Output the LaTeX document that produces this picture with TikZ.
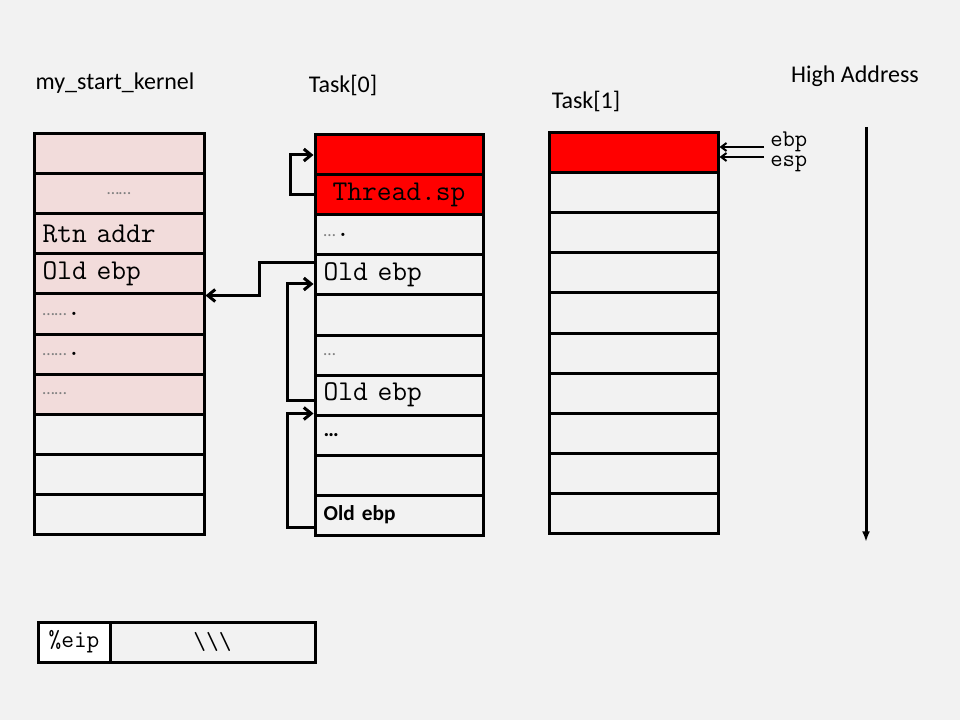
\documentclass[tikz,border=0pt]{standalone}
\usepackage{fontspec}
\setmainfont{Carlito}
\setsansfont{Carlito}
\usetikzlibrary{arrows.meta,calc}
\definecolor{bgc}{HTML}{F2F2F2}
\definecolor{pinkc}{HTML}{F2DCDB}
\definecolor{redc}{HTML}{FF0000}
\definecolor{dotc}{HTML}{808080}
\newcommand{\gdots}[1]{{\sffamily\fontsize{13}{14}\selectfont\textcolor{dotc}{#1}}}
\begin{document}
\begin{tikzpicture}[x=0.75pt,y=-0.75pt,
  cell/.style={draw, line width=2.25pt, minimum height=30pt, inner xsep=6.5pt, inner ysep=0pt,
    align=left, anchor=center, font=\ttfamily\fontsize{21.5}{22}\selectfont},
  lcell/.style={cell, text width=114.5pt},
  mcell/.style={cell, text width=113pt},
  rcell/.style={cell, text width=113.75pt},
  lbl/.style={font=\sffamily\fontsize{18}{21}\selectfont, inner sep=0pt},
  arr/.style={line width=2.25pt, -{Straight Barb[length=5.5pt,width=9pt,line width=2.25pt]}},
  sarr/.style={line width=2pt, -{Straight Barb[length=4pt,width=6pt,line width=1.5pt]}},
  reg/.style={font=\ttfamily\fontsize{18}{16}\selectfont, anchor=base west, inner sep=0pt}]
\fill[bgc] (0,0) rectangle (960,720);
\useasboundingbox (0,0) rectangle (960,720);

% titles
\node[lbl] (t0) at (115,83) {my\_start\_kernel};
\node[lbl] (t1) at (343,85) {Task[0]};
\node[lbl] (t2) at (586,101) {Task[1]};
\node[lbl] (t3) at (855,76) {High Address};

% left stack
\node[lcell, fill=pinkc] (L1) at (119,154) {};
\node[lcell, fill=pinkc, align=center] (L2) at (119,194) {\gdots{……}};
\node[lcell, fill=pinkc] (L3) at (119,234) {Rtn addr};
\node[lcell, fill=pinkc] (L4) at (119,274) {Old ebp};
\node[lcell, fill=pinkc] (L5) at (119,314) {\gdots{……}.};
\node[lcell, fill=pinkc] (L6) at (119,354) {\gdots{……}.};
\node[lcell, fill=pinkc] (L7) at (119,394) {\gdots{……}};
\node[lcell] (L8) at (119,434) {};
\node[lcell] (L9) at (119,474) {};
\node[lcell] (L10) at (119,514) {};

% middle stack
\node[mcell, fill=redc] (M1) at (399,155) {};
\node[mcell, fill=redc, align=center] (M2) at (399,195) {Thread.sp};
\node[mcell] (M3) at (399,235) {\gdots{…}.};
\node[mcell] (M4) at (399,275) {Old ebp};
\node[mcell] (M5) at (399,315) {};
\node[mcell] (M6) at (399,355) {\gdots{…}};
\node[mcell] (M7) at (399,395) {Old ebp};
\node[mcell, font=\sffamily\bfseries\fontsize{16}{18}\selectfont] (M8) at (399,435) {…};
\node[mcell] (M9) at (399,475) {};
\node[mcell, font=\sffamily\bfseries\fontsize{16}{18}\selectfont] (M10) at (399,515) {Old ebp};

% right stack
\node[rcell, fill=redc] (R1) at (633.5,153) {};
\foreach \i in {2,...,10} {
  \node[rcell] (R\i) at (633.5,{113+40*\i}) {};
}

% eip box
\node[cell, fill=white, minimum width=54pt, inner xsep=0pt, font=\ttfamily\fontsize{18.5}{18}\selectfont] (E1) at (74,642) {\%eip};
\node[cell, minimum width=153.75pt, inner xsep=0pt, align=center, font=\ttfamily\fontsize{18.5}{18}\selectfont] (E2) at (212.5,642) {\textbackslash\textbackslash\textbackslash};

% ebp / esp
\node[reg, text depth=0pt] (ebp) at (770,147) {ebp};
\node[reg, text height=1ex] (esp) at (770,167) {esp};
\coordinate (ebpS) at (764,147);
\coordinate (espS) at (764,157);
\draw[sarr] (ebpS) -- (R1.east |- ebpS);
\draw[sarr] (espS) -- (R1.east |- espS);

% high address arrow
\coordinate (hA) at (866,127);
\coordinate (hB) at (866,542);
\draw[line width=2.25pt, -{Latex[length=8pt,width=6pt]}] (hA) -- (hB);

% connectors
\draw[arr] ($(M4.west)+(0,-12)$) -| ($(L4.south east)+(54,0)$) -- (L4.south east);
\draw[arr] (M2.west) -- ++(-23,0) |- (M1.west);
\draw[arr] ($(M7.west)+(0,5)$) -- ++(-26,0) |- ($(M4.west)+(0,9)$);
\draw[arr] ($(M10.west)+(0,12)$) -- ++(-26,0) |- ($(M7.south west)+(0,-3)$);
\end{tikzpicture}
\end{document}
